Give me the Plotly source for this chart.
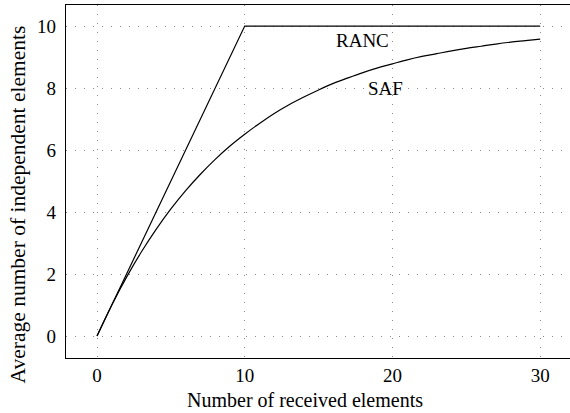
import plotly.graph_objects as go

# Data
ranc_x = [0, 10, 30]
ranc_y = [0, 10, 10]

saf_x = list(range(0, 31))
saf_y = [0.0, 1.0, 1.9, 2.71, 3.44, 4.10, 4.69, 5.22, 5.70, 6.13, 6.51,
         6.86, 7.18, 7.46, 7.71, 7.94, 8.15, 8.33, 8.50, 8.65, 8.78,
         8.91, 9.02, 9.11, 9.20, 9.28, 9.35, 9.42, 9.48, 9.53, 9.58]

x_ticks = [0, 10, 20, 30]
y_ticks = [0, 2, 4, 6, 8, 10]

labels = [("RANC", 18.0, 9.52), ("SAF", 19.5, 8.0)]

x_title = "Number of received elements"
y_title = "Average number of independent elements"

FONT = "Liberation Serif"

fig = go.Figure()
fig.add_trace(go.Scatter(x=ranc_x, y=ranc_y, mode="lines",
                         line=dict(color="black", width=1.2), showlegend=False))
fig.add_trace(go.Scatter(x=saf_x, y=saf_y, mode="lines",
                         line=dict(color="black", width=1.2, shape="spline"),
                         showlegend=False))

for txt, x, y in labels:
    fig.add_annotation(x=x, y=y, text=txt, showarrow=False,
                       font=dict(family=FONT, size=19, color="black"))

fig.add_annotation(xref="paper", yref="paper", x=0.474, y=-0.119,
                   text=x_title, showarrow=False,
                   xanchor="center", yanchor="middle",
                   font=dict(family=FONT, size=20, color="black"))
fig.add_annotation(xref="paper", yref="paper", x=-0.0952, y=0.435,
                   text=y_title, showarrow=False, textangle=-90,
                   xanchor="center", yanchor="middle",
                   font=dict(family=FONT, size=21.5, color="black"))

axis_common = dict(
    showline=True, linecolor="black", linewidth=1.3, mirror=True,
    showgrid=True, gridcolor="#8a8a8a", gridwidth=1, griddash="1px,8px",
    zeroline=False, ticks="", automargin=False,
    tickfont=dict(family=FONT, size=19, color="black"),
)

fig.update_xaxes(range=[-2.1, 32.02], tickvals=x_ticks,
                 ticklabelstandoff=0, **axis_common)
fig.update_yaxes(range=[-0.71, 10.68], tickvals=y_ticks,
                 ticklabelstandoff=5, **axis_common)

fig.update_layout(width=570, height=413,
                  font=dict(family=FONT, color="black"),
                  margin=dict(l=66, r=0, t=5, b=55),
                  plot_bgcolor="white", paper_bgcolor="white")

fig.write_html("out.html",
               config={"displayModeBar": False},
               post_script="document.body.style.margin='0';"
                           "document.body.style.overflow='hidden';")
